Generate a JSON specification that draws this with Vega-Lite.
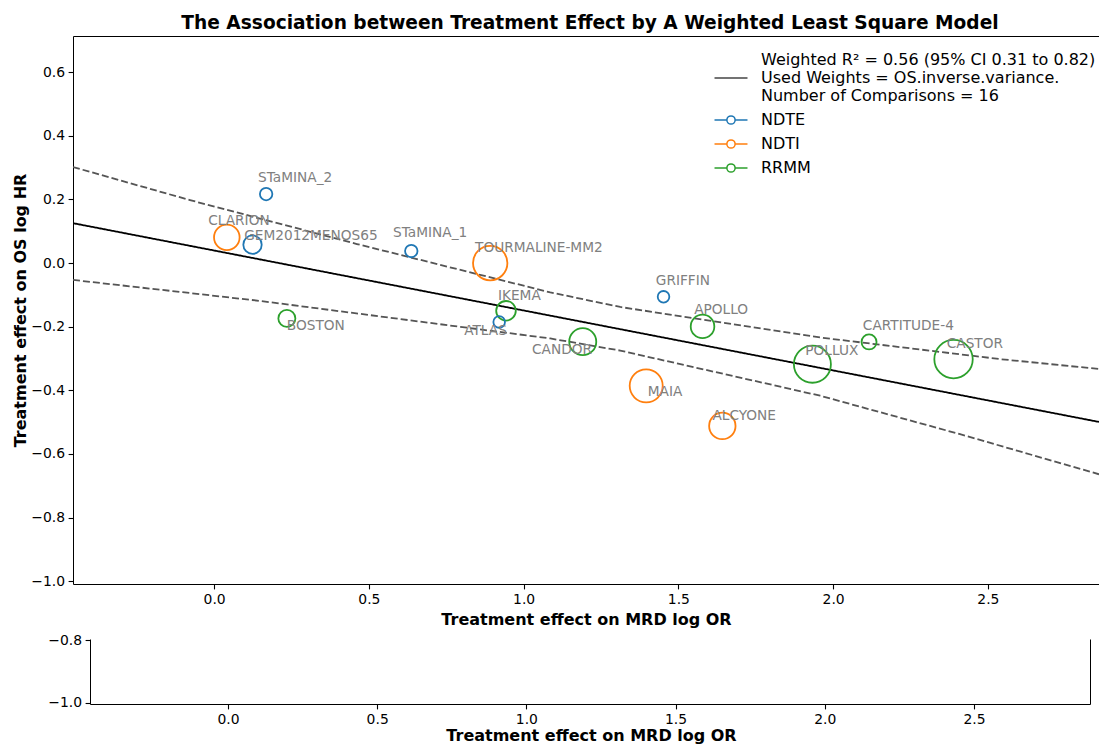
{
  "$schema": "https://vega.github.io/schema/vega-lite/v6.json",
  "padding": {"left": 12, "top": 14, "right": 0, "bottom": 0},
  "background": "white",
  "datasets": {
    "studies": [
      {"study": "STaMINA_2", "setting": "NDTE", "mrd": 0.168, "os": 0.217, "weight": 6.2, "lx": 0.142, "ly": 0.267},
      {"study": "CLARION", "setting": "NDTI", "mrd": 0.041, "os": 0.081, "weight": 26.2, "lx": -0.019, "ly": 0.133},
      {"study": "GEM2012MENOS65", "setting": "NDTE", "mrd": 0.124, "os": 0.058, "weight": 13.5, "lx": 0.097, "ly": 0.086},
      {"study": "STaMINA_1", "setting": "NDTE", "mrd": 0.637, "os": 0.038, "weight": 6.2, "lx": 0.578, "ly": 0.094},
      {"study": "TOURMALINE-MM2", "setting": "NDTI", "mrd": 0.892, "os": 0.0, "weight": 47.3, "lx": 0.843, "ly": 0.047},
      {"study": "BOSTON", "setting": "RRMM", "mrd": 0.235, "os": -0.174, "weight": 11.6, "lx": 0.235, "ly": -0.197},
      {"study": "IKEMA", "setting": "RRMM", "mrd": 0.943, "os": -0.150, "weight": 15.4, "lx": 0.917, "ly": -0.103},
      {"study": "ATLAS", "setting": "NDTE", "mrd": 0.921, "os": -0.185, "weight": 5.4, "lx": 0.808, "ly": -0.213},
      {"study": "CANDOR", "setting": "RRMM", "mrd": 1.191, "os": -0.247, "weight": 29.2, "lx": 1.027, "ly": -0.273},
      {"study": "GRIFFIN", "setting": "NDTE", "mrd": 1.452, "os": -0.106, "weight": 5.4, "lx": 1.427, "ly": -0.057},
      {"study": "APOLLO", "setting": "RRMM", "mrd": 1.578, "os": -0.199, "weight": 22.3, "lx": 1.551, "ly": -0.148},
      {"study": "MAIA", "setting": "NDTI", "mrd": 1.396, "os": -0.386, "weight": 43.6, "lx": 1.401, "ly": -0.405},
      {"study": "ALCYONE", "setting": "NDTI", "mrd": 1.642, "os": -0.512, "weight": 27.9, "lx": 1.610, "ly": -0.482},
      {"study": "POLLUX", "setting": "RRMM", "mrd": 1.933, "os": -0.318, "weight": 54.8, "lx": 1.910, "ly": -0.276},
      {"study": "CARTITUDE-4", "setting": "RRMM", "mrd": 2.116, "os": -0.248, "weight": 9.0, "lx": 2.096, "ly": -0.199},
      {"study": "CASTOR", "setting": "RRMM", "mrd": 2.389, "os": -0.302, "weight": 59.0, "lx": 2.367, "ly": -0.253}
    ],
    "fit": [
      {"kind": "fit", "x": -0.456, "y": 0.1255},
      {"kind": "fit", "x": 2.859, "y": -0.4994},
      {"kind": "upper", "x": -0.456, "y": 0.302},
      {"kind": "upper", "x": -0.078, "y": 0.198},
      {"kind": "upper", "x": 0.461, "y": 0.060},
      {"kind": "upper", "x": 1.086, "y": -0.092},
      {"kind": "upper", "x": 1.312, "y": -0.138},
      {"kind": "upper", "x": 1.958, "y": -0.234},
      {"kind": "upper", "x": 2.540, "y": -0.302},
      {"kind": "upper", "x": 2.859, "y": -0.333},
      {"kind": "lower", "x": -0.456, "y": -0.053},
      {"kind": "lower", "x": 0.149, "y": -0.119},
      {"kind": "lower", "x": 1.086, "y": -0.237},
      {"kind": "lower", "x": 1.312, "y": -0.275},
      {"kind": "lower", "x": 1.958, "y": -0.417},
      {"kind": "lower", "x": 2.410, "y": -0.538},
      {"kind": "lower", "x": 2.859, "y": -0.664}
    ]
  },
  "spacing": 5,
  "vconcat": [
    {
      "width": 1026,
      "height": 548,
      "title": {
        "text": "The Association between Treatment Effect by A Weighted Least Square Model",
        "fontSize": 18.6,
        "fontWeight": "bold",
        "font": "DejaVu Sans",
        "color": "black",
        "anchor": "middle",
        "offset": 3,
        "dx": 4
      },
      "layer": [
        {
          "data": {"name": "fit"},
          "transform": [{"filter": "datum.kind !== 'fit'"}],
          "mark": {"type": "line", "color": "#555555", "strokeWidth": 1.8, "strokeDash": [7, 3], "clip": true},
          "encoding": {
            "x": {"field": "x", "type": "quantitative", "scale": {"domain": [-0.456, 2.859], "nice": false, "zero": false},
                  "axis": {"title": "Treatment effect on MRD log OR", "values": [0, 0.5, 1, 1.5, 2, 2.5], "format": ".1f", "titlePadding": 5}},
            "y": {"field": "y", "type": "quantitative", "scale": {"domain": [-1.009, 0.714], "nice": false, "zero": false},
                  "axis": {"title": "Treatment effect on OS log HR", "values": [-1, -0.8, -0.6, -0.4, -0.2, 0, 0.2, 0.4, 0.6], "format": ".1f", "minExtent": 40, "maxExtent": 40, "titlePadding": 5}},
            "detail": {"field": "kind"}
          }
        },
        {
          "data": {"name": "fit"},
          "transform": [{"filter": "datum.kind === 'fit'"}],
          "mark": {"type": "line", "color": "black", "strokeWidth": 1.8, "clip": true},
          "encoding": {
            "x": {"field": "x", "type": "quantitative", "axis": {"orient": "top", "labels": false, "ticks": false, "title": null}},
            "y": {"field": "y", "type": "quantitative"},
            "strokeDash": {
              "datum": "Weighted least squares fit",
              "type": "nominal",
              "scale": {"range": [[1, 0]]},
              "legend": {
                "orient": "none",
                "legendX": 649,
                "legendY": 33,
                "title": null,
                "padding": 0,
                "symbolType": "M-2,0H2",
                "symbolSize": 272,
                "symbolStrokeWidth": 1.5,
                "symbolStrokeColor": "#444444",
                "labelOffset": 21,
                "labelLimit": 0,
                "labelFontSize": 16,
                "labelFont": "DejaVu Sans",
                "labelColor": "black",
                "labelExpr": "['Weighted R² = 0.56 (95% CI 0.31 to 0.82)', 'Used Weights = OS.inverse.variance.', 'Number of Comparisons = 16']",
                "encode": {
                  "symbols": {"update": {"stroke": {"value": "#444444"}}},
                  "labels": {"update": {"lineHeight": {"value": 18.3}, "dy": {"value": -18.3}}}
                }
              }
            }
          }
        },
        {
          "data": {"name": "studies"},
          "mark": {"type": "point", "filled": false, "strokeWidth": 1.8, "opacity": 1},
          "encoding": {
            "x": {"field": "mrd", "type": "quantitative", "axis": null},
            "y": {"field": "os", "type": "quantitative"},
            "color": {
              "field": "setting",
              "type": "nominal",
              "scale": {"domain": ["NDTE", "NDTI", "RRMM"], "range": ["#1f77b4", "#ff7f0e", "#2ca02c"]},
              "legend": {
                "orient": "none",
                "legendX": 649,
                "legendY": 75,
                "title": null,
                "padding": 0,
                "symbolType": "M-2,0H-0.5M0.5,0H2M0.5,0A0.5,0.5,0,1,1,-0.5,0A0.5,0.5,0,1,1,0.5,0Z",
                "symbolSize": 272,
                "symbolStrokeWidth": 1.5,
                "labelOffset": 21,
                "labelFontSize": 16,
                "labelFont": "DejaVu Sans",
                "labelColor": "black",
                "rowPadding": 7
              }
            },
            "size": {"field": "weight", "type": "quantitative", "scale": {"type": "linear", "domain": [0, 100], "range": [0, 2500], "zero": true}, "legend": null}
          }
        },
        {
          "data": {"name": "studies"},
          "mark": {"type": "text", "align": "left", "baseline": "middle", "fontSize": 13.7, "font": "DejaVu Sans", "color": "#808080"},
          "encoding": {
            "x": {"field": "lx", "type": "quantitative", "axis": null},
            "y": {"field": "ly", "type": "quantitative"},
            "text": {"field": "study"}
          }
        }
      ],
      "resolve": {"axis": {"x": "independent"}}
    },
    {
      "width": 1017,
      "height": 65,
      "layer": [
        {
          "data": {"name": "studies"},
          "mark": {"type": "point", "filled": false, "clip": true},
          "encoding": {
            "x": {"field": "mrd", "type": "quantitative", "scale": {"domain": [-0.5194, 2.889], "nice": false, "zero": false},
                  "axis": {"title": "Treatment effect on MRD log OR", "values": [0, 0.5, 1, 1.5, 2, 2.5], "format": ".1f", "titlePadding": 1, "titleX": 518, "domainDash": [0, 17, 1000, 10000]}},
            "y": {"field": "os", "type": "quantitative", "scale": {"domain": [-1.004, -0.796], "nice": false, "zero": false},
                  "axis": {"title": null, "values": [-1, -0.8], "format": ".1f", "offset": -17}},
            "color": {"field": "setting", "type": "nominal", "legend": null}
          }
        },
        {
          "data": {"name": "fit"},
          "mark": {"type": "line", "color": "#555555", "clip": true},
          "encoding": {
            "x": {"field": "x", "type": "quantitative"},
            "y": {"field": "y", "type": "quantitative", "axis": {"orient": "right", "labels": false, "ticks": false, "title": null}},
            "detail": {"field": "kind"}
          }
        }
      ],
      "resolve": {"axis": {"y": "independent"}}
    }
  ],
  "config": {
    "font": "DejaVu Sans",
    "view": {"stroke": null},
    "axis": {
      "grid": false,
      "domainColor": "black",
      "domainWidth": 1,
      "tickColor": "black",
      "tickSize": 4.9,
      "tickWidth": 1.1,
      "labelPadding": 3.5,
      "labelFont": "DejaVu Sans",
      "labelFontSize": 13.9,
      "labelColor": "black",
      "titleFont": "DejaVu Sans",
      "titleFontSize": 16,
      "titleFontWeight": "bold",
      "titleColor": "black"
    }
  }
}
